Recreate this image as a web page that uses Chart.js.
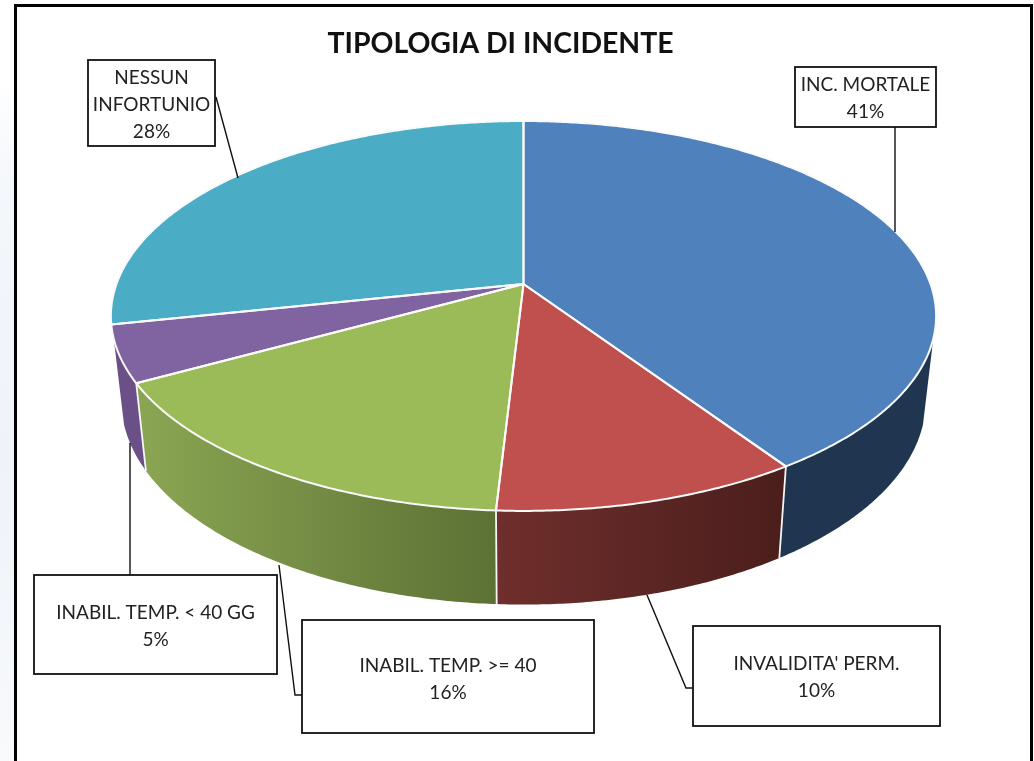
<!DOCTYPE html>
<html>
<head>
<meta charset="utf-8">
<script src="https://cdn.jsdelivr.net/npm/chart.js@4"></script>
<style>
html,body{margin:0;padding:0;width:1034px;height:761px;overflow:hidden;background:#fff}
#strip{position:absolute;left:0;top:0;width:15px;height:761px;background:linear-gradient(to bottom,#ffffff 0,#ffffff 80px,#f4f7fc 180px,#eef3fa 460px,#f3f6fb 620px,#f8fafc 761px)}
#frame{position:absolute;left:14px;top:4px;width:1013px;height:800px;border:3px solid #000;background:#fff}
canvas{position:absolute;left:0;top:0}
</style>
</head>
<body>
<div id="strip"></div><div id="frame"></div>
<canvas id="c" width="1034" height="761"></canvas>
<script>
const categories = ["INC. MORTALE", "INVALIDITA' PERM.", "INABIL. TEMP. >= 40", "INABIL. TEMP. < 40 GG", "NESSUN INFORTUNIO"];
const values = [40.6, 10.3, 16.1, 4.7, 28.3];
const topColors = ["#4f81bd", "#c0504d", "#9bbb59", "#8064a2", "#4bacc6"];
const wallFrom = ["#1f3550", "#6f2f2c", "#8ba653", "#6b5088", "#3a8ba0"];
const wallTo = ["#1f3550", "#4a1e1c", "#5c7134", "#6b5088", "#3a8ba0"];

// disc projection (perspective view of the pie)
const VIEW = {cx: 523.5, cy: 284, rx: 407, ry: 189.7, p: 0.164, shrink: 0.975, wallY: 367, wallS: 1.047, tangent: 16};
const BOXES = [
  {x: 795, y: 67, w: 141, h: 60, first: 85, leader: [[895,127],[895,232]]},
  {x: 693, y: 626, w: 247, h: 100, first: 664, leader: [[647,595],[686,688],[693,688]]},
  {x: 302, y: 620, w: 292, h: 113, first: 666, leader: [[279,565],[295,695],[302,695]]},
  {x: 34, y: 575, w: 243, h: 99, first: 613, leader: [[130,443],[130,575]]},
  {x: 88, y: 60, w: 127, h: 86, first: 78, leader: [[216,97],[238,178]]}
];
const LABEL_FONT = '19px Lato';
const LINE_H = 27;

function rim(a) {
  const u = Math.cos(a), v = Math.sin(a), w = 1 - VIEW.p * v;
  return [VIEW.cx + VIEW.rx * u / w, VIEW.cy + VIEW.ry * v / w];
}
function low(a) {
  const [x, y] = rim(a);
  return [VIEW.cx + VIEW.shrink * (x - VIEW.cx), VIEW.wallY + VIEW.wallS * (y - VIEW.cy)];
}
function sweep(a0, a1) {
  const n = Math.max(2, Math.ceil(Math.abs(a1 - a0) / (Math.PI / 360))), out = [];
  for (let i = 0; i <= n; i++) out.push(a0 + (a1 - a0) * i / n);
  return out;
}
function trace(ctx, pts) {
  ctx.beginPath();
  pts.forEach((p, i) => i ? ctx.lineTo(p[0], p[1]) : ctx.moveTo(p[0], p[1]));
}

const pie3d = {
  id: 'pie3d',
  afterLayout(chart) {
    chart.titleBlock.left = 0;
    chart.titleBlock.right = 1001;
  },
  beforeDatasetDraw(chart, args) {
    const ctx = chart.ctx, arcs = args.meta.data;
    const lo = VIEW.tangent * Math.PI / 180, hi = Math.PI - lo;
    ctx.save();
    ctx.lineJoin = 'round';
    const walls = [];
    arcs.forEach((arc, i) => {
      const s = Math.max(arc.startAngle, lo), e = Math.min(arc.endAngle, hi);
      if (e > s) walls.push({i, s, e});
    });
    walls.forEach(({i, s, e}) => {
      const aa = sweep(s, e);
      const x0 = rim(s)[0], x1 = rim(e)[0];
      const g = ctx.createLinearGradient(Math.min(x0, x1), 0, Math.max(x0, x1), 0);
      g.addColorStop(0, wallFrom[i]);
      g.addColorStop(1, wallTo[i]);
      trace(ctx, aa.map(rim).concat(aa.slice().reverse().map(low)));
      ctx.closePath();
      ctx.fillStyle = g;
      ctx.fill();
    });
    ctx.strokeStyle = '#f6f6f6';
    ctx.lineWidth = 1.8;
    arcs.forEach(arc => {
      if (arc.startAngle > lo && arc.startAngle < hi) {
        trace(ctx, [rim(arc.startAngle), low(arc.startAngle)]);
        ctx.stroke();
      }
    });
    arcs.forEach(arc => {
      trace(ctx, [[VIEW.cx, VIEW.cy]].concat(sweep(arc.startAngle, arc.endAngle).map(rim)));
      ctx.closePath();
      ctx.fillStyle = arc.options.backgroundColor;
      ctx.fill();
    });
    arcs.forEach(arc => {
      trace(ctx, [[VIEW.cx, VIEW.cy]].concat(sweep(arc.startAngle, arc.endAngle).map(rim)));
      ctx.closePath();
      ctx.strokeStyle = arc.options.borderColor;
      ctx.lineWidth = arc.options.borderWidth;
      ctx.stroke();
    });
    ctx.restore();
    return false;
  },
  afterDatasetsDraw(chart) {
    const ctx = chart.ctx, total = values.reduce((a, b) => a + b, 0);
    ctx.save();
    ctx.font = LABEL_FONT;
    ctx.textAlign = 'center';
    ctx.textBaseline = 'middle';
    BOXES.forEach((b, i) => {
      ctx.strokeStyle = '#111';
      ctx.lineWidth = 1.4;
      trace(ctx, b.leader);
      ctx.stroke();
      ctx.fillStyle = '#fff';
      ctx.fillRect(b.x, b.y, b.w, b.h);
      ctx.lineWidth = 1.8;
      ctx.strokeRect(b.x, b.y, b.w, b.h);
      const lines = [];
      let cur = '';
      categories[i].split(' ').forEach(word => {
        const t = cur ? cur + ' ' + word : word;
        if (cur && ctx.measureText(t).width > b.w - 4) { lines.push(cur); cur = word; }
        else cur = t;
      });
      lines.push(cur, Math.round(values[i] / total * 100) + '%');
      ctx.fillStyle = '#222';
      lines.forEach((l, k) => ctx.fillText(l, b.x + b.w / 2, b.first + k * LINE_H));
    });
    ctx.restore();
  }
};

new Chart(document.getElementById('c'), {
  type: 'pie',
  data: {
    labels: categories,
    datasets: [{data: values, backgroundColor: topColors, borderColor: '#fafafa', borderWidth: 2}]
  },
  options: {
    responsive: false,
    animation: false,
    layout: {padding: 0},
    plugins: {
      legend: {display: false},
      tooltip: {enabled: false},
      title: {
        display: true,
        text: 'TIPOLOGIA DI INCIDENTE',
        color: '#111',
        font: {family: 'Lato', size: 28.4, weight: 'bold'},
        padding: {top: 27, bottom: 10}
      }
    }
  },
  plugins: [pie3d]
});
</script>
</body>
</html>
